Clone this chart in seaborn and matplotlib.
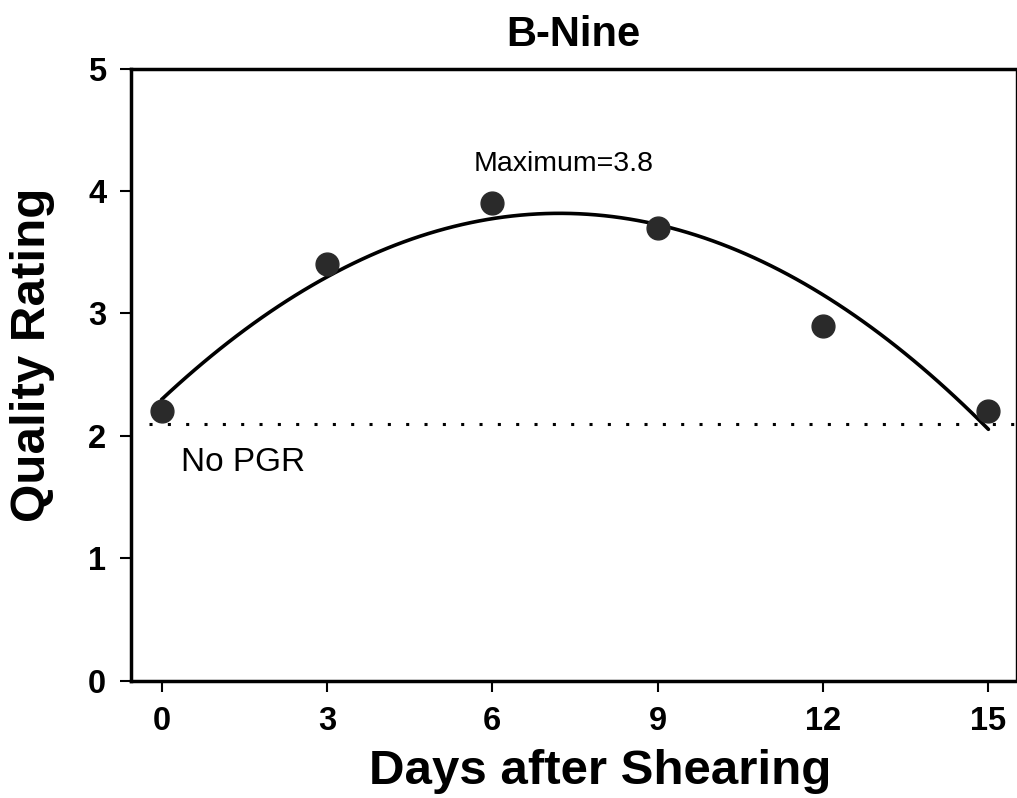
import pandas as pd
import matplotlib
matplotlib.use('Agg')
import matplotlib.pyplot as plt
import seaborn as sns

days = [0, 3, 6, 9, 12, 15]
quality = [2.2, 3.4, 3.9, 3.7, 2.9, 2.2]
no_pgr = 2.1
x_ticks = [0, 3, 6, 9, 12, 15]
y_ticks = [0, 1, 2, 3, 4, 5]

df = pd.DataFrame({'days': days, 'quality': quality})

sns.set_style('white')
plt.rcParams['font.family'] = ['Liberation Sans', 'DejaVu Sans']
plt.rcParams['text.color'] = 'black'
plt.rcParams['axes.labelcolor'] = 'black'
plt.rcParams['xtick.color'] = 'black'
plt.rcParams['ytick.color'] = 'black'

fig = plt.figure(figsize=(10.17, 7.98), dpi=100)
ax = fig.add_axes([0.129, 0.147, 0.87, 0.767])

# dotted reference line for untreated plants
ax.axhline(no_pgr, xmin=0.02, xmax=1.0, color='black', lw=2.2,
           linestyle=(0, (1, 5)), zorder=1)

sns.regplot(x='days', y='quality', data=df, order=2, ci=None, truncate=True,
            scatter_kws={'s': 270, 'color': '#2a2a2a', 'alpha': 1, 'zorder': 3},
            line_kws={'color': 'black', 'lw': 2.6, 'zorder': 2}, ax=ax)

ax.text(7.3, 4.22, 'Maximum=3.8', fontsize=20.5, ha='center', va='center')
ax.text(0.36, 1.78, 'No PGR', fontsize=24, ha='left', va='center')

ax.set_xlim(-0.55, 15.5)
ax.set_ylim(0, 5)
ax.set_xticks(x_ticks)
ax.set_yticks(y_ticks)
ax.tick_params(axis='both', direction='out', length=8, width=1.5,
               labelsize=23.5, pad=10, bottom=True, left=True)
for lab in ax.get_xticklabels() + ax.get_yticklabels():
    lab.set_fontweight('bold')

for side in ['left', 'bottom', 'top']:
    ax.spines[side].set_linewidth(2.5)
    ax.spines[side].set_color('black')
ax.spines['right'].set_linewidth(1.0)
ax.spines['right'].set_color('black')

ax.set_title('B-Nine', fontsize=30, fontweight='bold', pad=16)
ax.title.set_y(0.995)
ax.set_xlabel('Days after Shearing', fontsize=35.5, fontweight='bold', labelpad=9)
ax.set_ylabel('Quality Rating', fontsize=35.5, fontweight='bold', labelpad=24)
ax.xaxis.label.set_x(0.53)
ax.yaxis.label.set_y(0.533)

fig.savefig('out.png', dpi=100)
